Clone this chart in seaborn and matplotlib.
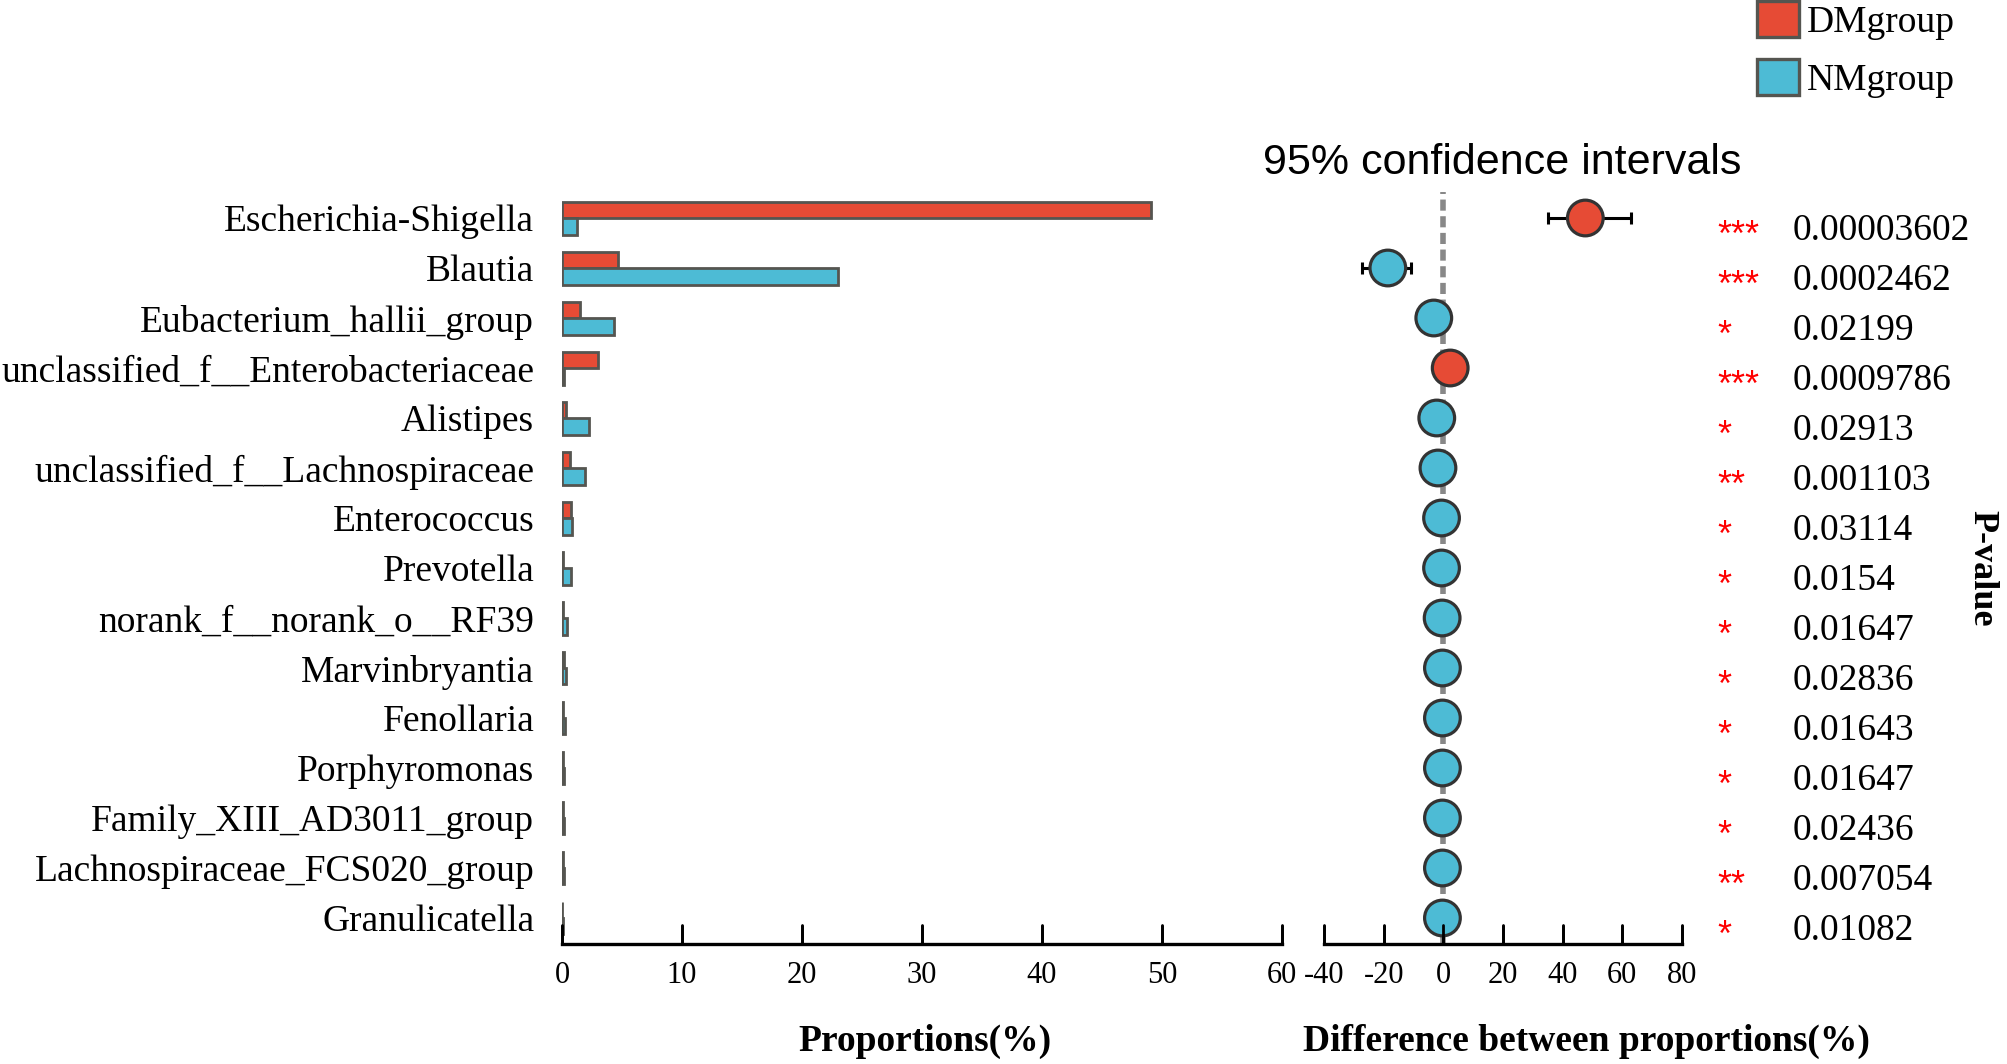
import numpy as np
import pandas as pd
import matplotlib
matplotlib.use("Agg")
import matplotlib.pyplot as plt
from matplotlib.patches import Patch
from matplotlib.lines import Line2D
from matplotlib.transforms import blended_transform_factory
import seaborn as sns

# ---------------- data ----------------
taxa = ["Escherichia-Shigella", "Blautia", "Eubacterium_hallii_group",
        "unclassified_f__Enterobacteriaceae", "Alistipes",
        "unclassified_f__Lachnospiraceae", "Enterococcus", "Prevotella",
        "norank_f__norank_o__RF39", "Marvinbryantia", "Fenollaria",
        "Porphyromonas", "Family_XIII_AD3011_group",
        "Lachnospiraceae_FCS020_group", "Granulicatella"]
dm_prop = [49.05, 4.65, 1.53, 2.98, 0.30, 0.63, 0.74, 0.12, 0.08, 0.15,
           0.10, 0.08, 0.08, 0.06, 0.04]
nm_prop = [1.23, 22.96, 4.35, 0.20, 2.27, 1.94, 0.86, 0.78, 0.45, 0.30,
           0.22, 0.20, 0.18, 0.15, 0.10]
diff = [47.6, -18.6, -3.2, 2.3, -2.2, -1.8, -0.6, -0.6, -0.4, -0.3,
        -0.3, -0.3, -0.3, -0.3, -0.3]
ci_low = [35.1, -27.3, -5.0, 0.9, -3.4, -2.8, -1.2, -1.1, -0.7, -0.5,
          -0.5, -0.5, -0.5, -0.5, -0.5]
ci_high = [62.8, -10.8, -1.4, 3.7, -1.0, -0.8, 0.0, -0.1, -0.1, -0.1,
           -0.1, -0.1, -0.1, -0.1, -0.1]
enriched = ["DMgroup", "NMgroup", "NMgroup", "DMgroup", "NMgroup", "NMgroup",
            "NMgroup", "NMgroup", "NMgroup", "NMgroup", "NMgroup", "NMgroup",
            "NMgroup", "NMgroup", "NMgroup"]
stars = ["***", "***", "*", "***", "*", "**", "*", "*", "*", "*", "*", "*",
         "*", "**", "*"]
pvalues = ["0.00003602", "0.0002462", "0.02199", "0.0009786", "0.02913",
           "0.001103", "0.03114", "0.0154", "0.01647", "0.02836", "0.01643",
           "0.01647", "0.02436", "0.007054", "0.01082"]
groups = ["DMgroup", "NMgroup"]
prop_ticks = [0, 10, 20, 30, 40, 50, 60]
diff_ticks = [-40, -20, 0, 20, 40, 60, 80]

RED = "#E64B35"
BLUE = "#4DBBD5"
palette = {"DMgroup": RED, "NMgroup": BLUE}
EDGE = "#555550"

# ---------------- style ----------------
sns.set_theme(style="white")
plt.rcParams["font.family"] = ["Liberation Serif", "DejaVu Serif"]
plt.rcParams["axes.unicode_minus"] = False
plt.rcParams["axes.axisbelow"] = False
plt.rcParams["xtick.bottom"] = True
plt.rcParams["xtick.direction"] = "in"
plt.rcParams["xtick.major.size"] = 14
plt.rcParams["xtick.major.width"] = 2.0
plt.rcParams["xtick.color"] = "black"
plt.rcParams["xtick.labelcolor"] = "black"
plt.rcParams["ytick.labelcolor"] = "black"
plt.rcParams["text.color"] = "black"

W, H = 2008, 1064
fig = plt.figure(figsize=(W / 100, H / 100), dpi=100)

top_px, bot_px = 192, 944
ax_h_px = bot_px - top_px
ax1 = fig.add_axes([562 / W, 1 - bot_px / H, 720 / W, ax_h_px / H])
ax2 = fig.add_axes([1324 / W, 1 - bot_px / H, 358 / W, ax_h_px / H])

n = len(taxa)
ypos = np.arange(n)

# ---------------- left: proportions ----------------
df = pd.DataFrame({
    "taxon": taxa * 2,
    "group": ["DMgroup"] * n + ["NMgroup"] * n,
    "value": dm_prop + nm_prop,
})
sns.barplot(data=df, y="taxon", x="value", hue="group", hue_order=groups,
            order=taxa, orient="h", palette=palette, width=0.66,
            edgecolor=EDGE, linewidth=2.0, saturation=1, errorbar=None,
            legend=False, ax=ax1)
ax1.set_xlim(0, 60)
ax1.set_ylim(n - 1 + 0.52, -0.52)
ax1.set_xticks(prop_ticks)
ax1.set_xlabel("")
ax1.set_ylabel("")
ax1.tick_params(axis="y", left=False, length=0, labelsize=27, pad=20)

# ---------------- right: differences ----------------
ax2.axvline(0, color="#888888", lw=4.0, ls=(0, (2.0, 1.0)), zorder=1)
xerr = [np.array(diff) - np.array(ci_low), np.array(ci_high) - np.array(diff)]
ax2.errorbar(diff, ypos, xerr=xerr, fmt="none", ecolor="black",
             elinewidth=2.2, capsize=4, capthick=2.2, zorder=2)
dd = pd.DataFrame({"diff": diff, "y": ypos, "grp": enriched})
sns.scatterplot(data=dd, x="diff", y="y", hue="grp", palette=palette,
                s=660, edgecolor="#333333", linewidth=2.3, legend=False,
                zorder=3, ax=ax2)
ax2.set_xlim(-40, 80)
ax2.set_ylim(n - 1 + 0.52, -0.52)
ax2.set_xticks(diff_ticks)
ax2.set_yticks([])
ax2.set_xlabel("")
ax2.set_ylabel("")

# axes styling (both panels): bottom axis only, inward ticks
for ax, ticks in ((ax1, prop_ticks), (ax2, diff_ticks)):
    for s in ["left", "top", "right"]:
        ax.spines[s].set_visible(False)
    ax.spines["bottom"].set_linewidth(2.4)
    ax.spines["bottom"].set_color("black")
    ax.set_axisbelow(False)
    ax.xaxis.set_ticks_position("bottom")
    ax.tick_params(axis="x", bottom=True, direction="in", length=14,
                   width=2.0, color="black", labelsize=22, pad=12)
    # figure-level inward tick marks at the axis tick positions
    btr = blended_transform_factory(ax.transData, ax.transAxes)
    for t in ticks:
        fig.add_artist(Line2D([t, t], [0, 19 / ax_h_px], transform=btr,
                              color="black", linewidth=2.0, zorder=10))

# p-values and stars
tr = ax2.get_yaxis_transform()
for i in range(n):
    ax2.text((1717 - 1324) / 358, i + 0.36, stars[i], transform=tr,
             color="red", fontsize=26, family=["Liberation Sans"],
             ha="left", va="center")
    ax2.text((1793 - 1324) / 358, i + 0.25, pvalues[i], transform=tr,
             fontsize=27, ha="left", va="center")

# titles / labels
fig.text(1502 / W, 1 - 163 / H, "95% confidence intervals",
         family=["Liberation Sans"], fontsize=31, ha="center", va="center")
fig.text(925 / W, 1 - 1041 / H, "Proportions(%)", fontsize=27,
         fontweight="bold", ha="center", va="center")
fig.text(1586 / W, 1 - 1041 / H, "Difference between proportions(%)",
         fontsize=27, fontweight="bold", ha="center", va="center")
fig.text(1982 / W, 1 - 568 / H, "P-value", fontsize=26, fontweight="bold",
         rotation=270, ha="center", va="center")

# legend
handles = [Patch(facecolor=palette[g], edgecolor=EDGE, linewidth=2.4, label=g)
           for g in groups]
fig.legend(handles=handles, loc="upper left",
           bbox_to_anchor=(1757 / W, 1 - 1 / H), frameon=False, fontsize=27,
           handlelength=1.12, handleheight=1.12, handletextpad=0.22,
           labelspacing=0.5, borderpad=0, borderaxespad=0)

fig.savefig("out.png", dpi=100)
